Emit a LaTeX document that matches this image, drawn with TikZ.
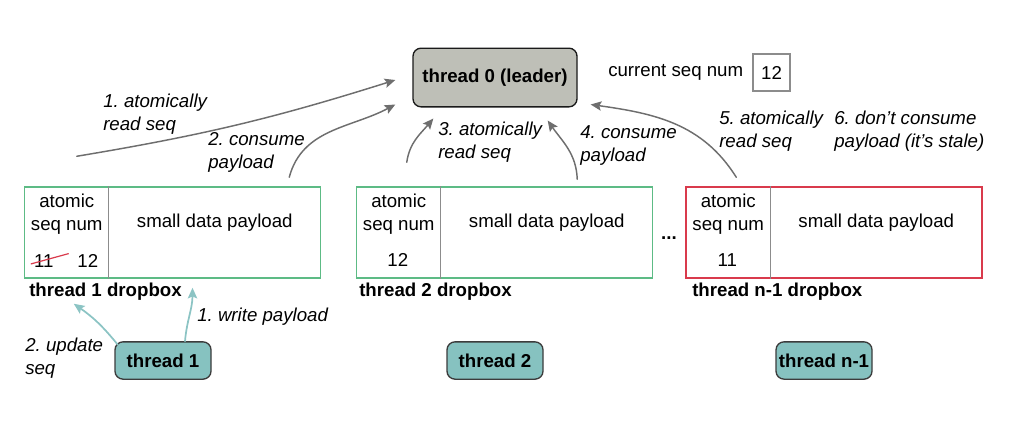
\documentclass[tikz,border=0pt]{standalone}
\usepackage{fontspec}
\setmainfont{Liberation Sans}
\usepackage{xcolor}
\usepackage{tikz}
\usetikzlibrary{calc,arrows.meta,positioning}
\frenchspacing
\newcommand{\basesize}{\fontsize{14}{17.25}\selectfont}
\definecolor{ink}{HTML}{1A1A1A}
\definecolor{flow}{HTML}{6E6E6E}
\definecolor{okgreen}{HTML}{5DBB85}
\definecolor{stalered}{HTML}{D93A4C}
\definecolor{leaderfill}{HTML}{BEBFB7}
\definecolor{tealfill}{HTML}{86C2C0}
\definecolor{tealline}{HTML}{8CC4C4}
\definecolor{cellline}{HTML}{8C8C8C}
\tikzset{
  leadbox/.style={draw=ink, fill=leaderfill, rounded corners=6pt, line width=1pt, minimum width=123pt, minimum height=44pt, font=\basesize\bfseries},
  worker/.style={draw=ink!85, fill=tealfill, rounded corners=6pt, line width=1pt, minimum width=72pt, minimum height=28pt, inner sep=1pt, font=\basesize\bfseries},
  drop/.style={draw=okgreen, line width=1.1pt, minimum width=222pt, minimum height=68.25pt},
  stale/.style={drop, draw=stalered},
  cell/.style={draw=cellline, line width=0.8pt},
  seqbox/.style={draw=cellline, line width=0.9pt, minimum width=27.75pt, minimum height=27.75pt},
  flowarr/.style={draw=flow, line width=1.1pt, line cap=round, -{Stealth[length=8pt,width=7pt,inset=1.5pt]}},
  tealarr/.style={draw=tealline, line width=1.3pt, line cap=round, -{Stealth[length=8pt,width=7pt,inset=1.5pt]}},
  lab/.style={font=\basesize\itshape, align=left, anchor=west, inner sep=0pt},
  boxlab/.style={font=\basesize\bfseries, anchor=west, inner sep=0pt},
  txt/.style={font=\basesize, align=center, inner sep=0pt},
}
\begin{document}
\begin{tikzpicture}[x=0.75pt, y=-0.75pt, font=\basesize]
\useasboundingbox (0,0) rectangle (1009,421);

% leader and its counter
\node[leadbox] (lead) at (495,77.5) {thread 0 (leader)};
\node[txt, anchor=west] (curlbl) at (608,72) {current seq num};
\node[seqbox] (cur) at (771.5,72.5) {12};

% dropboxes
\node[drop] (box1) at (172.5,232.5) {};
\node[drop] (box2) at (504.5,232.5) {};
\node[stale] (box3) at (834,232.5) {};
\foreach \b in {box1,box2,box3} {
  \draw[cell] ($(\b.north west)+(85,0)$) -- ($(\b.south west)+(85,0)$);
  \node[txt] at ($(\b.north west)+(43,27.5)$) {atomic\\seq num};
  \node[txt] at ($(\b.north west)+(191,36)$) {small data payload};
}
\node[txt] (old1) at ($(box1.north west)+(20,75)$) {11};
\node[txt] (new1) at ($(box1.north west)+(64,75)$) {12};
\draw[stalered, line width=0.9pt] ($(old1.south west)+(-3,-4)$) -- ($(old1.north east)+(15,-1)$);
\node[txt] (seq2) at ($(box2.north west)+(42,74)$) {12};
\node[txt] (seq3) at ($(box3.north west)+(42,74)$) {11};
\node[boxlab] at (29,292) {thread 1 dropbox};
\node[boxlab] at (359,292) {thread 2 dropbox};
\node[boxlab] at (692,292) {thread n-1 dropbox};
\node[font=\basesize\bfseries, inner sep=0pt] (dots) at (669,238) {...};

% worker threads
\node[worker] (t1) at (163,360.5) {thread 1};
\node[worker] (t2) at (495,360.5) {thread 2};
\node[worker] (tn) at (824,360.5) {thread n-1};

% leader reads
\draw[flowarr] ($(box1.north west)+(53,-30)$) to[bend right=4] ($(lead.west)+(-17,2.5)$);
\draw[flowarr] ($(box1.north east)+(-32,-9)$) to[out=75,in=-152] ($(lead.south west)+(-17,-3)$);
\draw[flowarr] ($(box2.north west)+(51,-24)$) to[out=82,in=-130] ($(lead.south west)+(21,11)$);
\draw[flowarr] ($(box2.north east)+(-76,-7)$) to[out=92,in=-55] ($(lead.south east)+(-30,13)$);
\draw[flowarr] ($(box3.north west)+(51,-9)$) to[out=122,in=-8] ($(lead.south east)+(13,-3)$);
\node[lab] at (103,114) {1. atomically\\read seq};
\node[lab] at (208,152) {2. consume\\payload};
\node[lab] at (438,142) {3. atomically\\read seq};
\node[lab] at (580,146) {4. consume\\payload};
\node[lab] at (719,131) {5. atomically\\read seq};
\node[lab] at (834,131) {6. don’t consume\\payload (it’s stale)};

% writer steps
\draw[tealarr] ($(t1.north)+(22,0)$) to[out=85,in=-90] ($(box1.south)+(20,9)$);
\draw[tealarr] ($(t1.north west)+(3,3)$) to[bend right=8] ($(box1.south west)+(50,25)$);
\node[lab] at (197,317) {1. write payload};
\node[lab] at (25,358) {2. update\\seq};
\end{tikzpicture}
\end{document}
